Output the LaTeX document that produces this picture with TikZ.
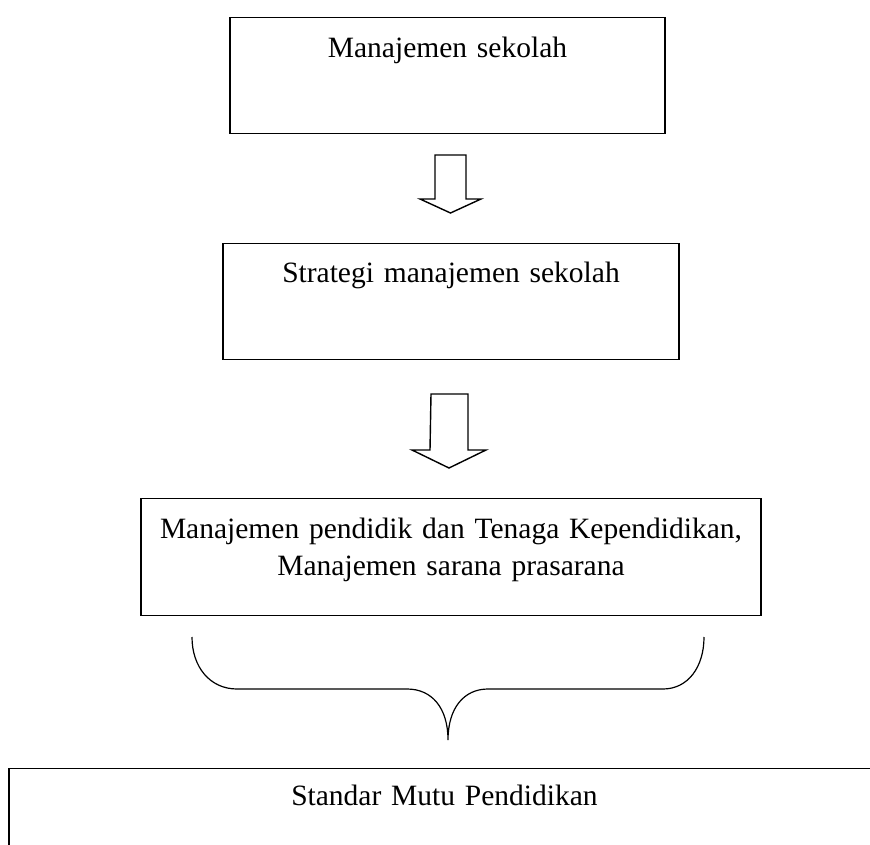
\documentclass[tikz,border=0pt]{standalone}
\usepackage{fontspec}
\setmainfont{Liberation Serif}
\usetikzlibrary{positioning}

\begin{document}
\begin{tikzpicture}[x=1pt, y=-1pt]
	% ----- Styles -----
	\tikzset{
		box/.style={
			rectangle, draw, line width=1.4pt, inner sep=0pt,
			align=center, anchor=north,
			font=\fontsize{29.5}{37}\selectfont
		},
		blockarrow/.style={draw, line width=1.4pt, line join=miter, fill=white},
		brace/.style={draw, line width=1.2pt}
	}
	\useasboundingbox (0,0) rectangle (870,845);
	\clip (0,0) rectangle (870,845);
	% ----- Nodes -----
	\node (manajemen) [box, minimum width=435pt, text width=420pt,
		text height=40pt, text depth=76pt] at (447.5,17) {Manajemen sekolah};
	\node (strategi)  [box, minimum width=456pt, text width=440pt,
		text height=39pt, text depth=77pt] at (451,243) {Strategi manajemen sekolah};
	\node (tenaga)    [box, minimum width=620pt, text width=600pt,
		text height=40pt, text depth=77pt] at (451,498)
		{Manajemen pendidik dan Tenaga Kependidikan,\\Manajemen sarana prasarana};
	\node (standar)   [box, minimum width=871pt, text width=850pt,
		text height=37pt, text depth=95pt] at (444.5,768) {Standar Mutu Pendidikan};

	% ----- Arrows -----
	\coordinate (arrowA) at (450.5,155);
	\coordinate (arrowB) at (449.5,394);
	\draw[blockarrow] (arrowA) ++(-15.5,0) -- ++(31,0) -- ++(0,44) -- ++(15,0)
		-- ++(-30.5,14) -- ++(-30.5,-14) -- ++(15,0) -- cycle;
	\draw[blockarrow] (arrowB) ++(-18.5,0) -- ++(37,0) -- ++(0,56) -- ++(18,0)
		-- ++(-37,18) -- ++(-37,-18) -- ++(18,0) -- cycle;

	% brace under the third box
	\coordinate (tip) at (448,740);
	\draw[brace] (192,637) .. controls (192,667) and (210,689) .. (237,689)
		-- (407,689) .. controls (432,689) and (448,708) .. (tip)
		.. controls (448,708) and (464,689) .. (488,689)
		-- (663,689) .. controls (688,689) and (704,667) .. (704,637);
\end{tikzpicture}
\end{document}
